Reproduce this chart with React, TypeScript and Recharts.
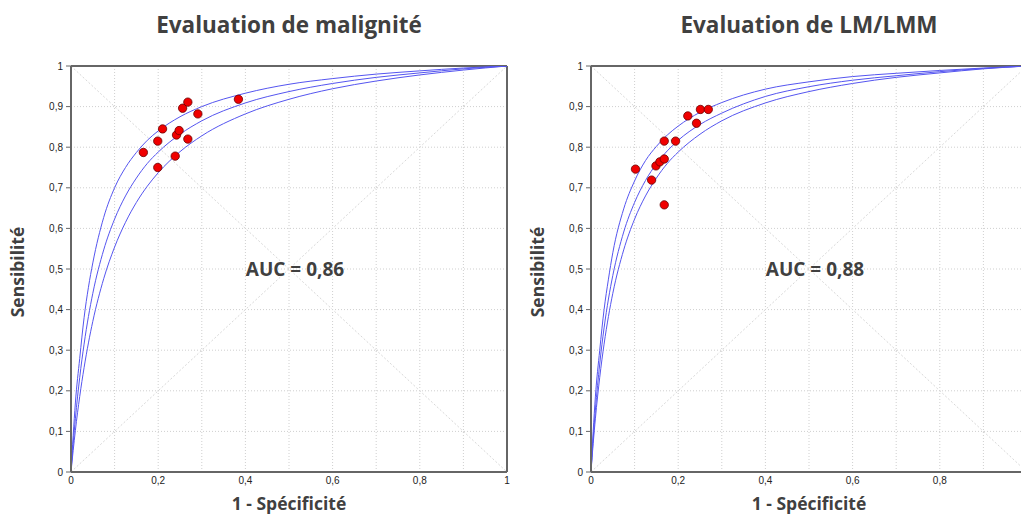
import React from 'react'
import {
  ComposedChart,
  Line,
  Scatter,
  XAxis,
  YAxis,
  ZAxis,
  CartesianGrid,
  ReferenceLine,
} from 'recharts'

const FPR = [0, 0.005, 0.01, 0.02, 0.03, 0.04, 0.05, 0.075, 0.1, 0.125, 0.15, 0.175, 0.2, 0.25, 0.3, 0.4, 0.5, 0.6, 0.7, 0.8, 0.9, 1]

// Evaluation de malignité : SROC curve and its band
const maligUpper = [0, 0.09, 0.17, 0.28, 0.38, 0.455, 0.515, 0.627, 0.7, 0.75, 0.787, 0.817, 0.84, 0.875, 0.9, 0.933, 0.955, 0.969, 0.98, 0.988, 0.995, 1]
const maligMid = [0, 0.07, 0.131, 0.233, 0.315, 0.383, 0.44, 0.547, 0.623, 0.68, 0.724, 0.76, 0.788, 0.832, 0.865, 0.909, 0.937, 0.957, 0.972, 0.983, 0.993, 1]
const maligLower = [0, 0.053, 0.102, 0.186, 0.257, 0.318, 0.371, 0.476, 0.554, 0.615, 0.664, 0.704, 0.737, 0.789, 0.828, 0.882, 0.918, 0.944, 0.963, 0.978, 0.99, 1]
const maligStudyFpr = [0.166, 0.199, 0.21, 0.199, 0.239, 0.242, 0.248, 0.256, 0.268, 0.268, 0.291, 0.384]
const maligStudySens = [0.787, 0.815, 0.845, 0.75, 0.778, 0.83, 0.841, 0.896, 0.911, 0.82, 0.882, 0.918]

// Evaluation de LM/LMM
const lmUpper = [0, 0.1, 0.185, 0.3, 0.4, 0.475, 0.54, 0.648, 0.717, 0.767, 0.802, 0.83, 0.852, 0.886, 0.91, 0.943, 0.961, 0.974, 0.982, 0.989, 0.995, 1]
const lmMid = [0, 0.082, 0.152, 0.266, 0.355, 0.426, 0.484, 0.591, 0.664, 0.718, 0.759, 0.791, 0.817, 0.856, 0.884, 0.925, 0.949, 0.965, 0.976, 0.986, 0.994, 1]
const lmLower = [0, 0.07, 0.131, 0.233, 0.315, 0.383, 0.44, 0.547, 0.623, 0.68, 0.724, 0.76, 0.788, 0.832, 0.865, 0.909, 0.937, 0.957, 0.972, 0.983, 0.993, 1]
const lmStudyFpr = [0.102, 0.139, 0.149, 0.158, 0.168, 0.168, 0.168, 0.194, 0.222, 0.242, 0.251, 0.269]
const lmStudySens = [0.746, 0.719, 0.754, 0.764, 0.771, 0.658, 0.815, 0.815, 0.877, 0.859, 0.893, 0.893]

const TICKS = [0, 0.1, 0.2, 0.3, 0.4, 0.5, 0.6, 0.7, 0.8, 0.9, 1]
const DIAG_UP = [{ x: 0, y: 0 }, { x: 1, y: 1 }]
const DIAG_DOWN = [{ x: 0, y: 1 }, { x: 1, y: 0 }]

const FONT = '"Open Sans", sans-serif'
const TEXT = '#404040'
const CURVE = '#5555f0'

const fmt = (v: number) => (v === 0 ? '0' : v === 1 ? '1' : v.toFixed(1).replace('.', ','))

interface PanelProps {
  left: number
  title: string
  auc: string
  upper: number[]
  mid: number[]
  lower: number[]
  studyFpr: number[]
  studySens: number[]
  cutRight?: boolean
}

function RocPanel({ left, title, auc, upper, mid, lower, studyFpr, studySens, cutRight }: PanelProps) {
  const toCurve = (ys: number[]) => FPR.map((x, i) => ({ x, y: ys[i] }))
  const studies = studyFpr.map((x, i) => ({ x, y: studySens[i] }))
  const center = left + 71 + 218
  const xLabel = (v: number) => {
    const k = Math.round(v * 10)
    if (k % 2 !== 0) return ''
    if (cutRight && k === 10) return ''
    return fmt(v)
  }

  return (
    <>
      <div style={{ position: 'absolute', left, top: 0 }}>
        <ComposedChart width={529} height={514} margin={{ top: 66, right: 22, bottom: 12, left: 0 }}>
          <CartesianGrid stroke="#cfcfcf" strokeDasharray="1 2" />
          <XAxis
            type="number"
            dataKey="x"
            domain={[0, 1]}
            ticks={TICKS}
            interval={0}
            tickFormatter={xLabel}
            tickLine={false}
            tickSize={3}
            height={30}
            axisLine={{ stroke: '#666', strokeWidth: 2 }}
            tick={{ fill: '#222', fontSize: 10, fontFamily: 'Liberation Sans, Arial, sans-serif' }}
            allowDataOverflow
          />
          <YAxis
            type="number"
            dataKey="y"
            domain={[0, 1]}
            ticks={TICKS}
            interval={0}
            tickFormatter={fmt}
            width={71}
            tickSize={5}
            tickMargin={3}
            tickLine={{ stroke: '#666' }}
            axisLine={{ stroke: '#666', strokeWidth: 2 }}
            tick={{ fill: '#222', fontSize: 10, fontFamily: 'Liberation Sans, Arial, sans-serif' }}
            allowDataOverflow
          />
          <ZAxis range={[55, 55]} />
          <ReferenceLine y={1} stroke="#666" strokeWidth={2} />
          <ReferenceLine x={1} stroke="#666" strokeWidth={2} />
          <Line data={DIAG_UP} dataKey="y" type="linear" stroke="#d8d8d8" strokeDasharray="2 2" dot={false} activeDot={false} isAnimationActive={false} />
          <Line data={DIAG_DOWN} dataKey="y" type="linear" stroke="#d8d8d8" strokeDasharray="2 2" dot={false} activeDot={false} isAnimationActive={false} />
          <Line data={toCurve(upper)} dataKey="y" type="monotone" stroke={CURVE} strokeWidth={1} dot={false} activeDot={false} isAnimationActive={false} />
          <Line data={toCurve(mid)} dataKey="y" type="monotone" stroke={CURVE} strokeWidth={1} dot={false} activeDot={false} isAnimationActive={false} />
          <Line data={toCurve(lower)} dataKey="y" type="monotone" stroke={CURVE} strokeWidth={1} dot={false} activeDot={false} isAnimationActive={false} />
          <Scatter data={studies} fill="#f00000" stroke="#6a0000" strokeWidth={0.8} isAnimationActive={false} />
        </ComposedChart>
      </div>
      <div style={{ position: 'absolute', left: center - 200, width: 400, top: 14, textAlign: 'center', fontFamily: FONT, fontWeight: 700, fontSize: 22.5, lineHeight: 1, color: TEXT }}>
        {title}
      </div>
      <div style={{ position: 'absolute', left: center - 100, width: 200, top: 495, textAlign: 'center', fontFamily: FONT, fontWeight: 700, fontSize: 17.5, lineHeight: 1, color: TEXT }}>
        1 - Spécificité
      </div>
      <div style={{ position: 'absolute', left: left + 71 + 224 - 100, width: 200, top: 260, textAlign: 'center', fontFamily: FONT, fontWeight: 700, fontSize: 19, lineHeight: 1, color: TEXT }}>
        {auc}
      </div>
      <div style={{ position: 'absolute', left: left + 18, top: 272, transform: 'translate(-50%, -50%) rotate(-90deg)', whiteSpace: 'nowrap', fontFamily: FONT, fontWeight: 700, fontSize: 17.5, lineHeight: 1, color: TEXT }}>
        Sensibilité
      </div>
    </>
  )
}

export default function App() {
  return (
    <div style={{ position: 'absolute', left: 0, top: 0, width: 1021, height: 514, overflow: 'hidden', background: '#fff' }}>
      <RocPanel
        left={0}
        title="Evaluation de malignité"
        auc="AUC = 0,86"
        upper={maligUpper}
        mid={maligMid}
        lower={maligLower}
        studyFpr={maligStudyFpr}
        studySens={maligStudySens}
      />
      <RocPanel
        left={520}
        title="Evaluation de LM/LMM"
        auc="AUC = 0,88"
        upper={lmUpper}
        mid={lmMid}
        lower={lmLower}
        studyFpr={lmStudyFpr}
        studySens={lmStudySens}
        cutRight
      />
    </div>
  )
}
